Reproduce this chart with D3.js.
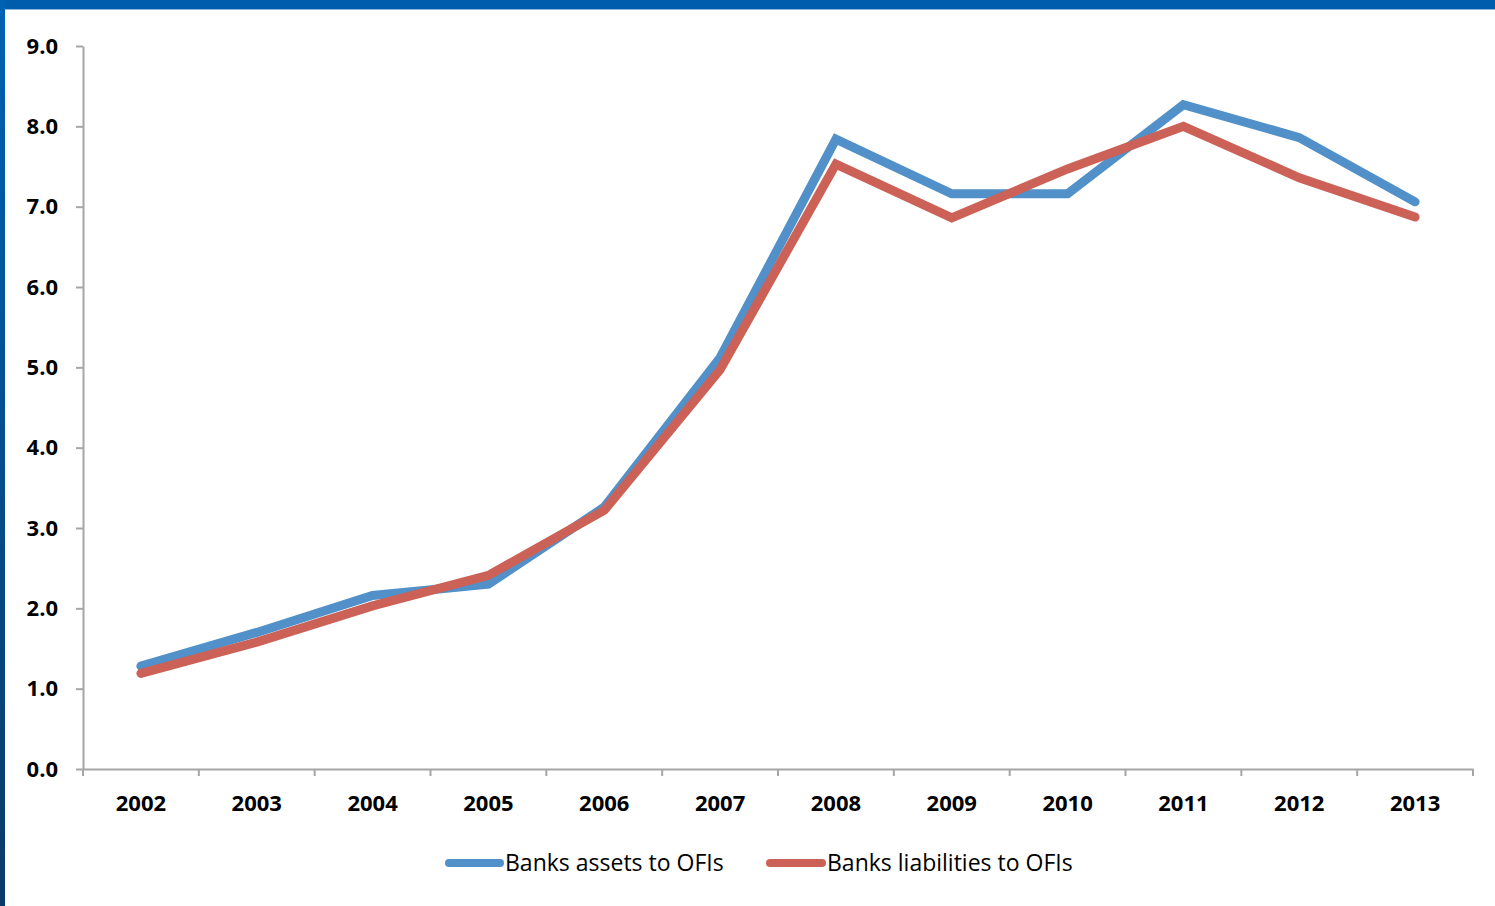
<!DOCTYPE html>
<html>
<head>
<meta charset="utf-8">
<script src="https://cdn.jsdelivr.net/npm/d3@7"></script>
<style>
html,body{margin:0;padding:0;background:#fff;}
svg{display:block;}
</style>
</head>
<body>
<svg id="chart" width="1495" height="906"></svg>
<script>
const years = ["2002","2003","2004","2005","2006","2007","2008","2009","2010","2011","2012","2013"];
const assets = [1.28, 1.70, 2.16, 2.30, 3.26, 5.12, 7.84, 7.16, 7.16, 8.27, 7.86, 7.06];
const liabilities = [1.19, 1.58, 2.03, 2.41, 3.22, 4.97, 7.53, 6.86, 7.47, 8.00, 7.36, 6.87];
const yTicks = [0,1,2,3,4,5,6,7,8,9];
const seriesNames = ["Banks assets to OFIs", "Banks liabilities to OFIs"];
const seriesColors = ["#5190c8", "#cc6157"];

(function(){
const svg = d3.select("#chart");
const W = 1495, H = 906;

// frame
const defs = svg.append("defs");
const g1 = defs.append("linearGradient").attr("id","lb").attr("x1",0).attr("y1",0).attr("x2",0).attr("y2",1);
g1.append("stop").attr("offset","0%").attr("stop-color","#0062b4");
g1.append("stop").attr("offset","100%").attr("stop-color","#0b3a68");
svg.append("rect").attr("x",0).attr("y",0).attr("width",W).attr("height",H).attr("fill","#fff");
svg.append("rect").attr("x",0).attr("y",0).attr("width",W).attr("height",9).attr("fill","#005cac");
svg.append("rect").attr("x",0).attr("y",9).attr("width",W).attr("height",1).attr("fill","#8cb6de");
svg.append("rect").attr("x",0).attr("y",0).attr("width",5).attr("height",H).attr("fill","url(#lb)");

const pl = 83, pr = 1473, pt = 46, pb = 769;
const x = d3.scaleBand().domain(years).range([pl, pr]).padding(0);
const y = d3.scaleLinear().domain([0, 9]).range([pb, pt]);

const axisColor = "#a6a6a6";
const font = "'Open Sans', 'DejaVu Sans', sans-serif";

// y axis
const yAxis = svg.append("g").attr("transform", `translate(${pl},0)`)
  .call(d3.axisLeft(y).tickValues(yTicks).tickFormat(d3.format(".1f")).tickSizeInner(7).tickSizeOuter(0).tickPadding(18));
yAxis.select(".domain").attr("stroke", axisColor).attr("stroke-width", 2);
yAxis.selectAll(".tick line").attr("stroke", axisColor).attr("stroke-width", 2);
yAxis.selectAll(".tick text").attr("fill","#000").style("font-family", font).style("font-size","22px").style("font-weight","bold");

// x axis
const xAxis = svg.append("g").attr("transform", `translate(0,${pb})`)
  .call(d3.axisBottom(x).tickSize(0).tickPadding(26));
xAxis.select(".domain").attr("stroke", axisColor).attr("stroke-width", 2);
xAxis.selectAll(".tick text").attr("fill","#000").style("font-family", font).style("font-size","22px").style("font-weight","bold");
const bounds = years.map(d => x(d)).concat([pr]);
xAxis.selectAll(".bt").data(bounds).join("line").attr("class","bt")
  .attr("x1", d => d).attr("x2", d => d).attr("y1", 0).attr("y2", 7)
  .attr("stroke", axisColor).attr("stroke-width", 2);

// lines
const line = d3.line().x((d,i) => x(years[i]) + x.bandwidth()/2).y(d => y(d));
[assets, liabilities].forEach((s, k) => {
  svg.append("path").datum(s).attr("d", line).attr("fill","none")
    .attr("stroke", seriesColors[k]).attr("stroke-width", 9)
    .attr("stroke-linejoin","miter").attr("stroke-linecap","round");
});

// legend
const legendItems = [{x0: 449, x1: 500, tx: 505}, {x0: 770, x1: 822, tx: 827}];
const ly = 863;
legendItems.forEach((p, k) => {
  svg.append("line").attr("x1", p.x0).attr("x2", p.x1).attr("y1", ly).attr("y2", ly)
    .attr("stroke", seriesColors[k]).attr("stroke-width", 8).attr("stroke-linecap","round");
  svg.append("text").attr("x", p.tx).attr("y", ly).attr("dy","0.36em")
    .style("font-family", font).style("font-size","23px").attr("fill","#000")
    .text(seriesNames[k]);
});
})();
</script>
</body>
</html>
